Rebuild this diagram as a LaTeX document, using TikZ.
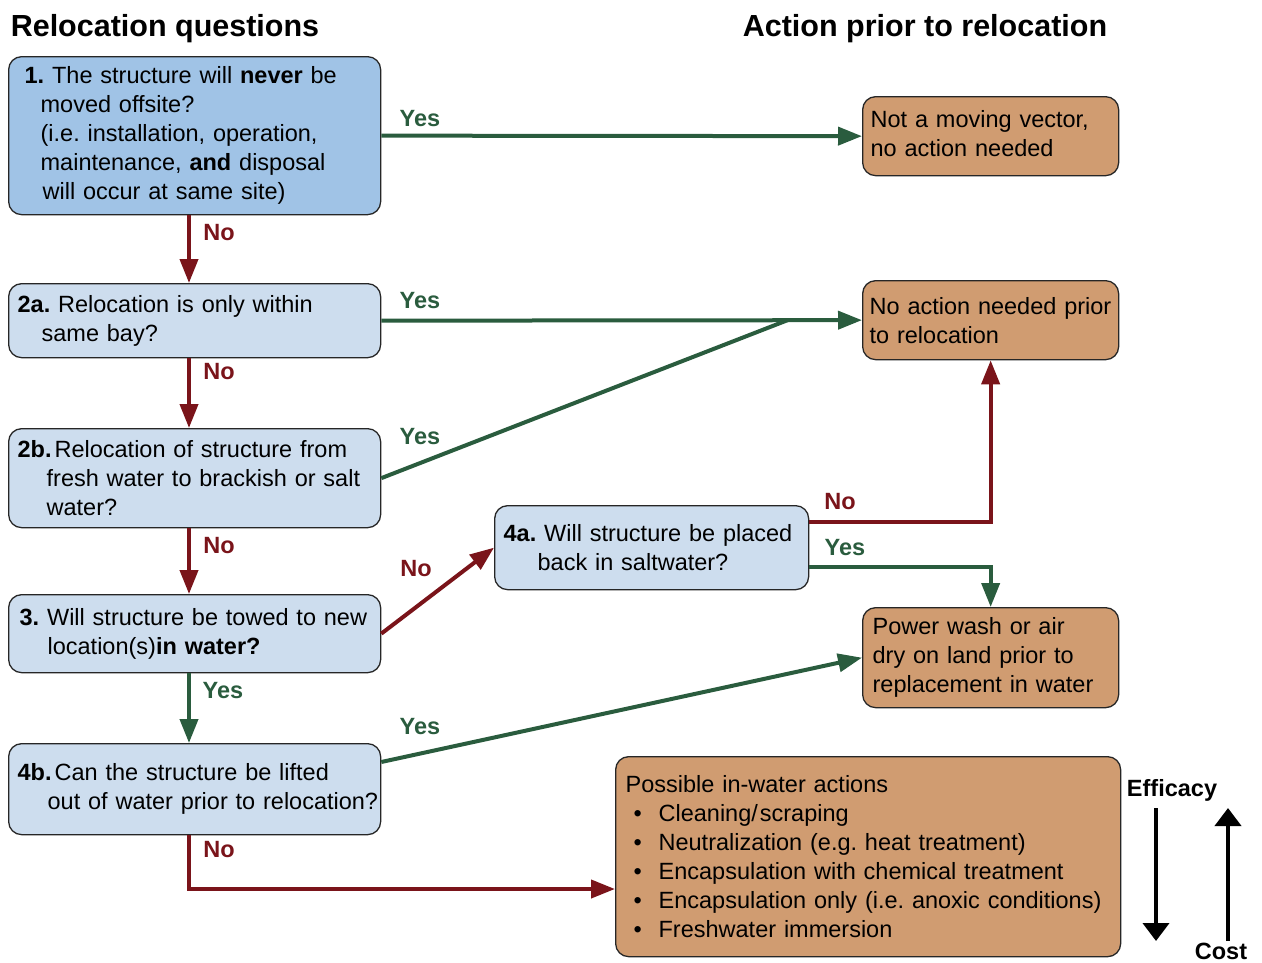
\documentclass[tikz,border=0pt]{standalone}
\usepackage{fontspec}
\setmainfont{Liberation Sans}
\usetikzlibrary{arrows.meta,calc}
\definecolor{gr}{RGB}{42,92,62}
\definecolor{rd}{RGB}{122,20,26}
\definecolor{qblue}{RGB}{160,195,230}
\definecolor{qlight}{RGB}{205,221,238}
\definecolor{tanbox}{RGB}{208,156,113}
\frenchspacing
\begin{document}
\begin{tikzpicture}[x=1pt,y=-1pt,
  box/.style={draw=black!85, line width=1.3pt, rounded corners=13pt, anchor=north west,
    align=left, font=\fontsize{23.5}{29}\selectfont, inner ysep=0pt},
  qbox/.style={box, fill=qlight},
  abox/.style={box, fill=tanbox},
  yesline/.style={draw=gr, line width=4pt},
  noline/.style={draw=rd, line width=4pt},
  yesarrow/.style={yesline, -{Triangle[length=24pt,width=18pt]}},
  noarrow/.style={noline, -{Triangle[length=24pt,width=18pt]}},
  blkarrow/.style={draw=black, line width=4pt, -{Triangle[length=18pt,width=26pt]}},
  lab/.style={font=\bfseries\fontsize{23.5}{28}\selectfont, inner sep=0pt},
  yeslab/.style={lab, text=gr},
  nolab/.style={lab, text=rd},
  title/.style={font=\bfseries\fontsize{30.5}{35}\selectfont, inner sep=0pt}
]
\useasboundingbox (0,0) rectangle (1262,962);

% titles
\node[title] (t1) at (165,29) {Relocation questions};
\node[title] (t2) at (925,29) {Action prior to relocation};

% question boxes
\node[qbox, fill=qblue, minimum width=372pt, minimum height=158pt, text width=340pt, inner xsep=16pt] (q1) at (8,56)
 {\textbf{1.} The structure will \textbf{never} be\\
  \hspace*{16pt}moved offsite?\\
  \hspace*{16pt}(i.e. installation, operation,\\
  \hspace*{16pt}maintenance, \textbf{and} disposal\\
  \hspace*{18pt}will occur at same site)};
\node[qbox, minimum width=372pt, minimum height=74pt, text width=354pt, inner xsep=9pt] (q2a) at (8,283)
 {\textbf{2a.} Relocation is only within\\
  \hspace*{24pt}same bay?};
\node[qbox, minimum width=372pt, minimum height=99pt, text width=354pt, inner xsep=9pt] (q2b) at (8,428)
 {\textbf{2b.}\hspace{3pt}Relocation of structure from\\
  \hspace*{29pt}fresh water to brackish or salt\\
  \hspace*{29pt}water?};
\node[qbox, minimum width=372pt, minimum height=78pt, text width=350pt, inner xsep=11pt] (q3) at (8,594)
 {\mbox{\textbf{3.} Will structure be towed to new}\\
  \hspace*{28pt}\mbox{location(s)\textbf{in water?}}};
\node[qbox, minimum width=372pt, minimum height=91pt, text width=354pt, inner xsep=9pt] (q4b) at (8,743)
 {\textbf{4b.}\hspace{3pt}Can the structure be lifted\\
  \hspace*{30pt}\mbox{out of water prior to relocation?}};
\node[qbox, minimum width=314pt, minimum height=84pt, text width=296pt, inner xsep=9pt] (q4a) at (494,505)
 {\textbf{4a.} Will structure be placed\\
  \hspace*{34pt}back in saltwater?};

% action boxes
\node[abox, minimum width=256pt, minimum height=79pt, text width=240pt, inner xsep=8pt] (a1) at (862,96)
 {Not a moving vector,\\ no action needed\vspace{6pt}};
\node[abox, minimum width=256pt, minimum height=79pt, text width=242pt, inner xsep=7pt] (a2) at (862,280)
 {\mbox{No action needed prior}\\ to relocation};
\node[abox, minimum width=256pt, minimum height=100pt, text width=236pt, inner xsep=10pt] (a3) at (862,607)
 {Power wash or air\\ dry on land prior to\\ \mbox{replacement in water}};
\node[abox, minimum width=505pt, minimum height=200pt, text width=485pt, inner xsep=10pt] (a4) at (615,756)
 {Possible in-water actions\\
  \hspace*{8pt}\makebox[25pt][l]{•}Cleaning/\hspace{2pt}scraping\\
  \hspace*{8pt}\makebox[25pt][l]{•}Neutralization (e.g. heat treatment)\\
  \hspace*{8pt}\makebox[25pt][l]{•}Encapsulation with chemical treatment\\
  \hspace*{8pt}\makebox[25pt][l]{•}Encapsulation only (i.e. anoxic conditions)\\
  \hspace*{8pt}\makebox[25pt][l]{•}Freshwater immersion};

% helper coordinates
\coordinate (xc) at (189,0);
\coordinate (j) at (788,320);
\coordinate (q4aNo) at ($(q4a.north east)+(0,17)$);
\coordinate (q4aYes) at ($(q4a.north east)+(0,62)$);
\coordinate (q4bYes) at ($(q4b.north east)+(0,19)$);
\coordinate (q4bNo) at (q4b.south -| xc);
\coordinate (bend4b) at (189,889);
\coordinate (a4in) at ($(a4.north west)+(0,133)$);
\coordinate (ed1) at (1156,808);
\coordinate (ed2) at (1156,941);
\coordinate (cu1) at (1228,941);
\coordinate (cu2) at (1228,808);

% connectors
\draw[yesarrow] (q1.east) -- (a1.west);
\draw[noarrow] (q1.south -| xc) -- (q2a.north -| xc);
\draw[yesarrow] (q2a.east) -- (a2.west);
\draw[noarrow] (q2a.south -| xc) -- (q2b.north -| xc);
\draw[yesline] (q2b.east) -- (j);
\draw[noarrow] (q2b.south -| xc) -- (q3.north -| xc);
\draw[noarrow] (q3.east) -- (q4a.west);
\draw[yesarrow] (q3.south -| xc) -- (q4b.north -| xc);
\draw[noarrow] (q4aNo) -| (a2.south);
\draw[yesarrow] (q4aYes) -| (a3.north);
\draw[yesarrow] (q4bYes) -- (a3.west);
\draw[noarrow] (q4bNo) -- (bend4b) -- (a4in);
\draw[blkarrow] (ed1) -- (ed2);
\draw[blkarrow] (cu1) -- (cu2);

% labels
\node[yeslab] (l1) at (420,119) {Yes};
\node[nolab] (l2) at (219,233) {No};
\node[yeslab] (l3) at (420,301) {Yes};
\node[nolab] (l4) at (219,372) {No};
\node[yeslab] (l5) at (420,437) {Yes};
\node[nolab] (l6) at (219,546) {No};
\node[nolab] (l7) at (416,569) {No};
\node[yeslab] (l8) at (223,691) {Yes};
\node[nolab] (l9) at (840,502) {No};
\node[yeslab] (l10) at (845,548) {Yes};
\node[yeslab] (l11) at (420,727) {Yes};
\node[nolab] (l12) at (219,850) {No};
\node[lab] (eff) at (1172,790) {Efficacy};
\node[lab] (cost) at (1221,951) {Cost};
\end{tikzpicture}
\end{document}
